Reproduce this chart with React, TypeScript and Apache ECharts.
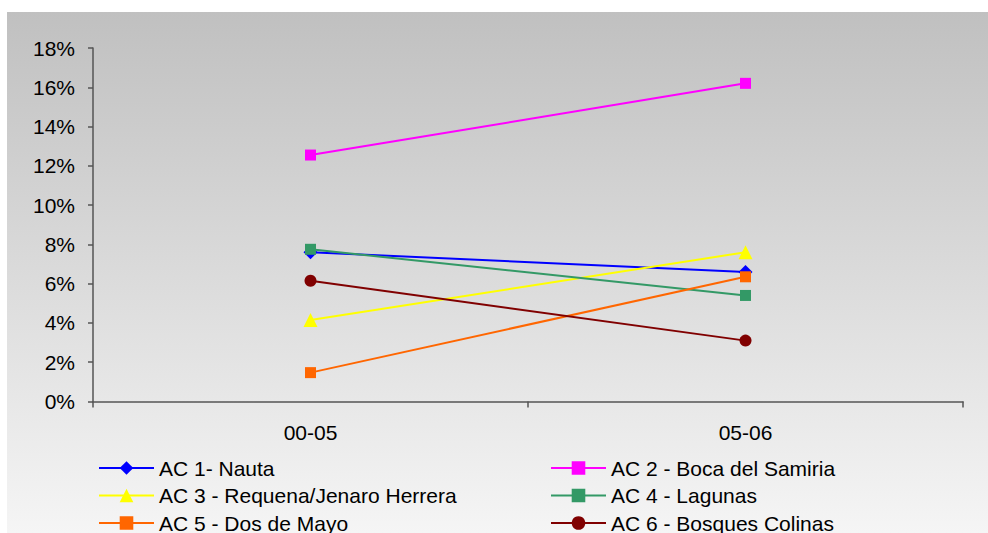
import React, { useEffect, useRef } from "react";
import * as echarts from "echarts";

const categories = ["00-05", "05-06"];
const seriesNames = [
  "AC 1- Nauta",
  "AC 2 - Boca del Samiria",
  "AC 3 - Requena/Jenaro Herrera",
  "AC 4 - Lagunas",
  "AC 5 - Dos de Mayo",
  "AC 6 - Bosques Colinas",
];
const ac1 = [7.6, 6.6];
const ac2 = [12.55, 16.2];
const ac3 = [4.15, 7.6];
const ac4 = [7.75, 5.4];
const ac5 = [1.47, 6.35];
const ac6 = [6.15, 3.1];
const seriesValues = [ac1, ac2, ac3, ac4, ac5, ac6];
const colors = ["#0000ff", "#ff00ff", "#ffff00", "#339966", "#ff6600", "#800000"];
const symbols = ["diamond", "rect", "triangle", "rect", "rect", "circle"];
const symbolSizes = [14, 11, 14, 11, 11, 12];

export default function App() {
  const ref = useRef<HTMLDivElement>(null);
  useEffect(() => {
    if (!ref.current) return;
    const chart = echarts.init(ref.current, null, { renderer: "svg" });
    const font = "'Liberation Sans', Arial, sans-serif";
    const legendText = { fontFamily: font, fontSize: 21, color: "#000", lineHeight: 21, padding: [0, 0, 0, 0] };
    const legendBase = {
      orient: "vertical",
      top: 457.5,
      width: 420,
      height: 120,
      itemWidth: 55,
      itemHeight: 17,
      itemGap: 6.5,
      itemTextGap: 6,
      padding: 0,
      textStyle: legendText,
    };
    chart.setOption({
      animation: false,
      textStyle: { fontFamily: font },
      graphic: [
        {
          type: "rect",
          z: -10,
          silent: true,
          shape: { x: 7, y: 12, width: 981, height: 521 },
          style: {
            fill: new echarts.graphic.LinearGradient(0, 0, 0, 1, [
              { offset: 0, color: "#c0c0c0" },
              { offset: 1, color: "#f5f5f5" },
            ]),
          },
        },
      ],
      grid: { left: 93, right: 25, top: 48, bottom: 131.5, containLabel: false },
      xAxis: {
        type: "category",
        data: categories,
        boundaryGap: true,
        axisLine: { lineStyle: { color: "#555555", width: 1.5 } },
        axisTick: { show: true, length: 6, lineStyle: { color: "#555555", width: 1.5 } },
        axisLabel: { fontFamily: font, fontSize: 21, color: "#000", margin: 20 },
        splitLine: { show: false },
      },
      yAxis: {
        type: "value",
        min: 0,
        max: 18,
        interval: 2,
        axisLine: { show: true, lineStyle: { color: "#555555", width: 1.5 } },
        axisTick: { show: true, length: 5, lineStyle: { color: "#555555", width: 1.5 } },
        axisLabel: { fontFamily: font, fontSize: 21, color: "#000", margin: 18, formatter: "{value}%" },
        splitLine: { show: false },
      },
      legend: [
        { ...legendBase, left: 98, data: [seriesNames[0], seriesNames[2], seriesNames[4]] },
        { ...legendBase, left: 550, data: [seriesNames[1], seriesNames[3], seriesNames[5]] },
      ],
      series: seriesNames.map((name, i) => ({
        name,
        type: "line",
        data: seriesValues[i],
        symbol: symbols[i],
        symbolSize: symbolSizes[i],
        showAllSymbol: true,
        lineStyle: { color: colors[i], width: 2 },
        itemStyle: { color: colors[i] },
        emphasis: { disabled: true },
      })),
    });
    return () => chart.dispose();
  }, []);
  return <div ref={ref} style={{ position: "absolute", left: 0, top: 0, width: 988, height: 533 }} />;
}
